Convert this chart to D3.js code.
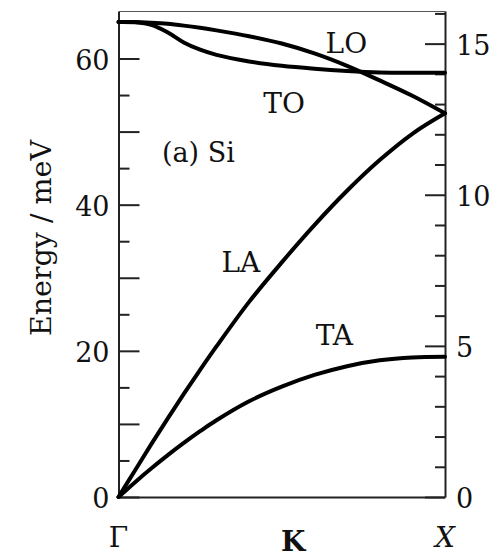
<!DOCTYPE html>
<html>
<head>
<meta charset="utf-8">
<script src="https://cdn.jsdelivr.net/npm/d3@7"></script>
<style>
  html, body { margin: 0; padding: 0; background: #fff; }
  svg { display: block; }
  text { font-family: "DejaVu Serif", "Liberation Serif", serif; fill: #111; }
</style>
</head>
<body>
<div id="chart"></div>
<script>
// wave vector along Γ -> X, as fraction of the path
const q = [0, 0.05, 0.1, 0.15, 0.2, 0.25, 0.3, 0.4, 0.5, 0.6, 0.7, 0.8, 0.9, 1.0];

// phonon energies in meV
const LA = [0, 3.6, 7.2, 10.7, 14.1, 17.4, 20.6, 26.7, 32.1, 37.2, 41.9, 46.1, 49.7, 52.5];
const TA = [0, 2.0, 3.9, 5.7, 7.4, 9.0, 10.5, 13.1, 15.1, 16.7, 17.9, 18.7, 19.1, 19.2];
const LO = [65.0, 65.0, 64.9, 64.75, 64.5, 64.2, 63.85, 63.05, 62.05, 60.7, 59.0, 57.0, 54.9, 52.5];
const TO = [65.0, 64.95, 64.6, 63.6, 62.2, 61.2, 60.5, 59.6, 59.0, 58.6, 58.3, 58.1, 58.05, 58.05];

const branches = [
  { name: "LA", values: LA },
  { name: "TA", values: TA },
  { name: "LO", values: LO },
  { name: "TO", values: TO }
];

// branch labels, anchored in data units (q, meV)
const labels = [
  { text: "LO", q: 0.698, e: 60.7 },
  { text: "TO", q: 0.507, e: 52.5 },
  { text: "LA", q: 0.375, e: 30.8 },
  { text: "TA", q: 0.661, e: 20.8 }
];

const symmetryPoints = ["Γ", "K", "X"];
const symmetryQ = [0, 0.535, 1];

const leftMajor = [0, 20, 40, 60];
const MEV_PER_THZ = 4.1357;

const W = 503, H = 559;
const margin = { L: 118.5, R: 58, T: 11, B: 62 };
const E_MAX = 66.5;

const svg = d3.select("#chart").append("svg")
  .attr("width", W)
  .attr("height", H);

const x = d3.scaleLinear().domain([0, 1]).range([margin.L, W - margin.R]);
const y = d3.scaleLinear().domain([0, E_MAX]).range([H - margin.B, margin.T]);
const yTHz = d3.scaleLinear().domain([0, E_MAX / MEV_PER_THZ]).range([H - margin.B, margin.T]);

// left axis: short ticks every 5, long every 10, labels every 20
svg.append("g")
  .attr("transform", "translate(" + margin.L + ",0)")
  .call(d3.axisLeft(y).tickValues(d3.range(5, 66, 10)).tickSize(-11).tickFormat(""))
  .call(g => g.select(".domain").remove());

svg.append("g")
  .attr("class", "left-axis")
  .attr("transform", "translate(" + margin.L + ",0)")
  .call(d3.axisLeft(y).tickValues(d3.range(0, 66, 10)).tickSize(-21).tickSizeOuter(0).tickPadding(9)
    .tickFormat(d => leftMajor.includes(d) ? d : ""));

// right axis in THz
svg.append("g")
  .attr("transform", "translate(" + (W - margin.R) + ",0)")
  .call(d3.axisRight(yTHz).tickValues(d3.range(1, 17).filter(d => d % 5)).tickSize(-10).tickFormat(""))
  .call(g => g.select(".domain").remove());

svg.append("g")
  .attr("class", "right-axis")
  .attr("transform", "translate(" + (W - margin.R) + ",0)")
  .call(d3.axisRight(yTHz).tickValues([0, 5, 10, 15]).tickSize(-20).tickSizeOuter(0).tickPadding(11));

// top and bottom frame lines
svg.append("g")
  .attr("transform", "translate(0," + (H - margin.B) + ")")
  .call(d3.axisBottom(x).tickValues([]).tickSizeOuter(0));
svg.append("g")
  .attr("class", "top-line")
  .attr("transform", "translate(0," + margin.T + ")")
  .call(d3.axisTop(x).tickValues([]).tickSizeOuter(0));

svg.selectAll(".domain").attr("stroke", "#222").attr("stroke-width", 2);
svg.select(".top-line .domain").attr("stroke", "#555").attr("stroke-width", 1.2);
svg.selectAll(".tick line").attr("stroke", "#222").attr("stroke-width", 2);
svg.selectAll(".tick text")
  .attr("font-size", 27)
  .attr("font-family", "DejaVu Serif")
  .attr("fill", "#111")
  .attr("dy", "0.4em");

// dispersion curves
const line = d3.line()
  .x((d, i) => x(q[i]))
  .y(d => y(d))
  .curve(d3.curveCatmullRom.alpha(0.5));

svg.append("g").selectAll("path")
  .data(branches)
  .join("path")
  .attr("d", d => line(d.values))
  .attr("fill", "none")
  .attr("stroke", "#000")
  .attr("stroke-width", 4)
  .attr("stroke-linejoin", "round")
  .attr("stroke-linecap", "round");

// branch labels
svg.append("g").selectAll("text")
  .data(labels)
  .join("text")
  .attr("x", d => x(d.q))
  .attr("y", d => y(d.e))
  .attr("text-anchor", "middle")
  .attr("font-size", 28)
  .text(d => d.text);

svg.append("text")
  .attr("x", x(0.133))
  .attr("y", y(45.8))
  .attr("font-size", 27)
  .text("(a) Si");

// symmetry points
svg.append("g").selectAll("text")
  .data(symmetryPoints)
  .join("text")
  .attr("x", (d, i) => x(symmetryQ[i]))
  .attr("y", (d, i) => i === 1 ? H - 8 : H - 12)
  .attr("text-anchor", "middle")
  .attr("font-size", 28)
  .attr("font-weight", (d, i) => i === 1 ? "bold" : "normal")
  .attr("font-style", (d, i) => i === 2 ? "italic" : "normal")
  .text(d => d);

// y axis title
svg.append("text")
  .attr("transform", "translate(51," + 238 + ") rotate(-90)")
  .attr("text-anchor", "middle")
  .attr("font-size", 27)
  .attr("textLength", 196)
  .attr("lengthAdjust", "spacingAndGlyphs")
  .text("Energy / meV");
</script>
</body>
</html>
